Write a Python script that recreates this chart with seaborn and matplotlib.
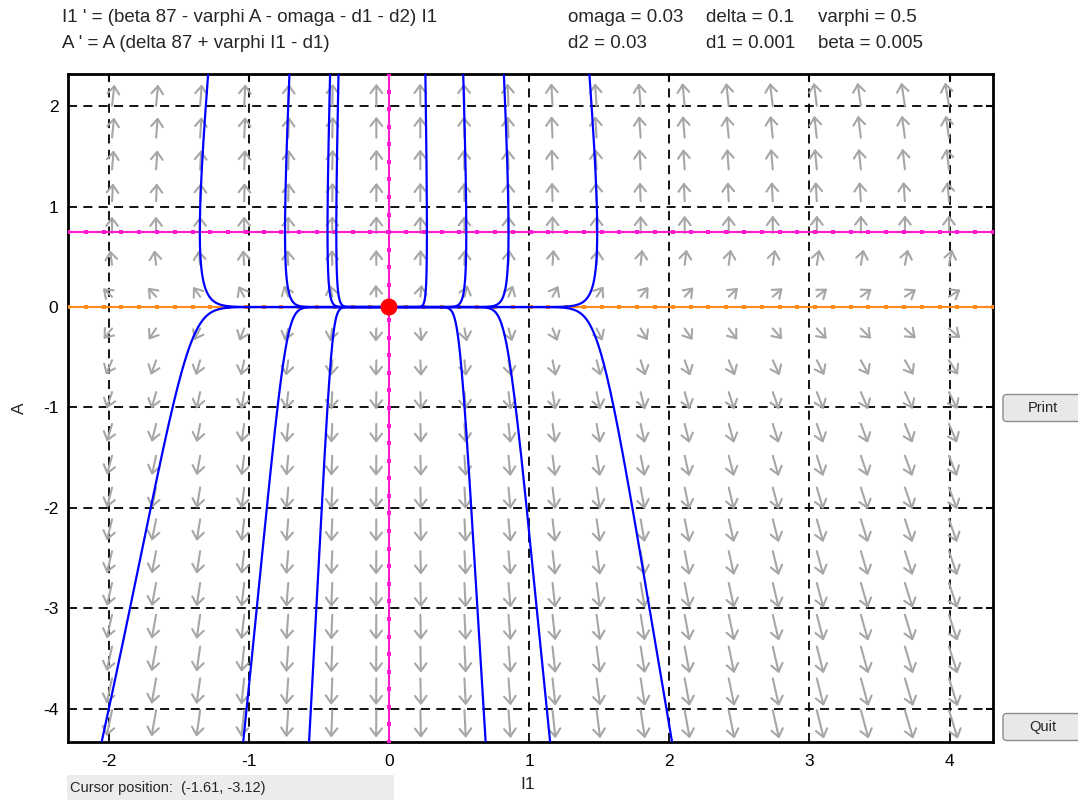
import numpy as np
import matplotlib
matplotlib.use("Agg")
import matplotlib.pyplot as plt
import seaborn as sns
from matplotlib.patches import FancyBboxPatch, Rectangle

# ---------------- data ----------------
omaga = 0.03
delta = 0.1
varphi = 0.5
d2 = 0.03
d1 = 0.001
beta = 0.005
N_const = 87

eq_line1 = "I1 ' = (beta 87 - varphi A - omaga - d1 - d2) I1"
eq_line2 = "A ' = A (delta 87 + varphi I1 - d1)"
param_row1 = ["omaga = 0.03", "delta = 0.1", "varphi = 0.5"]
param_row2 = ["d2 = 0.03", "d1 = 0.001", "beta = 0.005"]

x_ticks = [-2, -1, 0, 1, 2, 3, 4]
y_ticks = [-4, -3, -2, -1, 0, 1, 2]
x_limits = [-2.29, 4.31]
y_limits = [-4.33, 2.32]

# solution curves: points where each crosses the top / bottom edge
traj_top_I1 = [-1.29, -0.71, -0.42, -0.36, 0.26, 0.53, 0.82, 1.43]
traj_top_A = 2.32
traj_bottom_I1 = [-2.05, -1.04, -0.57, 0.69, 1.15, 2.02]
traj_bottom_A = -4.33

equilibria_I1 = [0.0]
equilibria_A = [0.0]

cursor_text = "Cursor position:  (-1.61, -3.12)"
button_labels = ["Print", "Quit"]
x_label = "I1"
y_label = "A"


def field(I1, A):
    dI1 = (beta * N_const - varphi * A - omaga - d1 - d2) * I1
    dA = A * (delta * N_const + varphi * I1 - d1)
    return dI1, dA


def solve_backward(I1_0, A_0, dt=-0.004, nmax=8000):
    xs = [I1_0]
    ys = [A_0]
    x, y = I1_0, A_0
    for _ in range(nmax):
        k1 = field(x, y)
        k2 = field(x + 0.5 * dt * k1[0], y + 0.5 * dt * k1[1])
        k3 = field(x + 0.5 * dt * k2[0], y + 0.5 * dt * k2[1])
        k4 = field(x + dt * k3[0], y + dt * k3[1])
        x = x + dt / 6 * (k1[0] + 2 * k2[0] + 2 * k3[0] + k4[0])
        y = y + dt / 6 * (k1[1] + 2 * k2[1] + 2 * k3[1] + k4[1])
        xs.append(x)
        ys.append(y)
        if abs(x) < 0.02 and abs(y) < 1e-3:
            break
    return np.array(xs), np.array(ys)


# ---------------- figure ----------------
sns.set_theme(style="white")
plt.rcParams["font.family"] = ["Liberation Sans", "DejaVu Sans"]

W, H = 1078, 800
fig = plt.figure(figsize=(W / 100, H / 100), dpi=100)
fig.patch.set_facecolor("white")
ax_l, ax_b, ax_w, ax_h = 68, 58, 925, 668
ax = fig.add_axes([ax_l / W, ax_b / H, ax_w / W, ax_h / H])
ax.set_facecolor("white")
ax.set_xlim(*x_limits)
ax.set_ylim(*y_limits)

sx = ax_w / (x_limits[1] - x_limits[0])
sy = ax_h / (y_limits[1] - y_limits[0])

# grid
ax.set_xticks(x_ticks)
ax.set_yticks(y_ticks)
ax.set_xticklabels([str(t) for t in x_ticks])
ax.set_yticklabels([str(t) for t in y_ticks])
ax.grid(True, color="black", linestyle=(0, (5, 3.5)), linewidth=1.3, zorder=1)
ax.set_axisbelow(True)
for s in ax.spines.values():
    s.set_color("black")
    s.set_linewidth(2)
ax.tick_params(direction="in", length=5, width=1.5, top=True, right=True,
               labelsize=12.5, colors="black")
ax.tick_params(axis="x", pad=9)
ax.tick_params(axis="y", pad=7)

# direction field
ncell = 21
gx = x_limits[0] + (x_limits[1] - x_limits[0]) * np.arange(1, ncell) / ncell
gy = y_limits[0] + (y_limits[1] - y_limits[0]) * np.arange(1, ncell) / ncell
GX, GY = np.meshgrid(gx, gy)
U, V = field(GX, GY)
Up, Vp = U * sx, V * sy
Npx = np.hypot(Up, Vp)
nmax = Npx.max()
for i in range(GX.shape[0]):
    for j in range(GX.shape[1]):
        n = Npx[i, j]
        if n == 0:
            continue
        L = 9 + 21 * (n / nmax) ** 0.5
        ux, uy = Up[i, j] / n, Vp[i, j] / n
        x0, y0 = GX[i, j], GY[i, j]
        x1, y1 = x0 + L * ux / sx, y0 + L * uy / sy
        ax.annotate("", xy=(x1, y1), xytext=(x0, y0),
                    arrowprops=dict(arrowstyle="->,head_length=0.55,head_width=0.42",
                                    color="#a6a6a6", lw=1.5, shrinkA=0, shrinkB=0,
                                    mutation_scale=10),
                    zorder=2)

# nullclines
pink = "#ff1ad1"
orange = "#ff8c1a"
A_null = (beta * N_const - omaga - d1 - d2) / varphi
hx = np.linspace(x_limits[0], x_limits[1], int(ax_w / 17.5) + 1)
vy = np.linspace(y_limits[0], y_limits[1], int(ax_h / 17.5) + 1)
sns.lineplot(x=hx, y=np.full_like(hx, A_null), ax=ax, color=pink, lw=1.5,
             marker="s", markersize=3, markeredgewidth=0, sort=False,
             estimator=None, legend=False, zorder=3)
sns.lineplot(x=np.zeros_like(vy), y=vy, ax=ax, color=pink, lw=1.5,
             marker="s", markersize=3, markeredgewidth=0, sort=False,
             estimator=None, legend=False, zorder=5)
sns.lineplot(x=hx, y=np.zeros_like(hx), ax=ax, color=orange, lw=1.5,
             marker="s", markersize=3, markeredgewidth=0, sort=False,
             estimator=None, legend=False, zorder=3)

# solution curves
for x0 in traj_top_I1:
    tx, ty = solve_backward(x0, traj_top_A)
    sns.lineplot(x=tx, y=ty, ax=ax, color="#0000ff", lw=1.6, sort=False,
                 estimator=None, legend=False, zorder=4)
for x0 in traj_bottom_I1:
    tx, ty = solve_backward(x0, traj_bottom_A)
    sns.lineplot(x=tx, y=ty, ax=ax, color="#0000ff", lw=1.6, sort=False,
                 estimator=None, legend=False, zorder=4)

# equilibrium
sns.scatterplot(x=equilibria_I1, y=equilibria_A, ax=ax, color="#ff0000", s=150,
                edgecolor="none", legend=False, zorder=6)

ax.set_xlabel(x_label, fontsize=12.5)
ax.set_ylabel(y_label, fontsize=12.5)
ax.xaxis.set_label_coords((528 - ax_l) / ax_w, (H - ax_b - 777) / ax_h)
ax.yaxis.set_label_coords((27 - ax_l) / ax_w, 0.5)

# header text
fs = 13.5
fig.text(62 / W, 1 - 17 / H, eq_line1, fontsize=fs, va="center", ha="left")
fig.text(62 / W, 1 - 43 / H, eq_line2, fontsize=fs, va="center", ha="left")
for xp, t1, t2 in zip([568, 706, 818], param_row1, param_row2):
    fig.text(xp / W, 1 - 17 / H, t1, fontsize=fs, va="center", ha="left")
    fig.text(xp / W, 1 - 43 / H, t2, fontsize=fs, va="center", ha="left")

# cursor box
fig.patches.append(Rectangle((67 / W, 0), (394 - 67) / W, 25 / H,
                             transform=fig.transFigure, facecolor="#ececec",
                             edgecolor="none"))
fig.text(70 / W, 12 / H, cursor_text, fontsize=10.5, va="center", ha="left")

# buttons
for lab, yc in zip(button_labels, [408, 727]):
    bx, bw, bh = 1003, 80, 27
    fig.patches.append(FancyBboxPatch((bx / W, (H - yc - bh / 2) / H), bw / W, bh / H,
                                      boxstyle="round,pad=0,rounding_size=0.004",
                                      transform=fig.transFigure,
                                      facecolor="#e8e8e8", edgecolor="#8c8c8c",
                                      linewidth=1))
    fig.text(1043 / W, 1 - yc / H, lab, fontsize=10.5, va="center", ha="center")

fig.savefig("out.png", dpi=100)
